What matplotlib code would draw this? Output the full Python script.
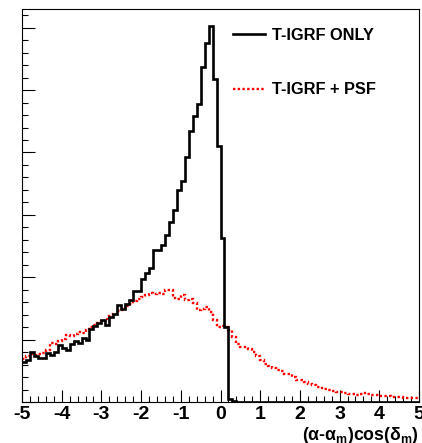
import numpy as np
import matplotlib
matplotlib.use("Agg")
from matplotlib import pyplot as plt
from matplotlib.ticker import MultipleLocator, NullFormatter

# bin edges: 100 bins of 0.1 from -5 to 5
bin_lo = -5.0
bin_hi = 5.0
n_bins = 100

# heights in units of one major y tick (axis has no y labels)
igrf_only = [
    0.642, 0.679, 0.802, 0.733, 0.711, 0.711, 0.786, 0.749, 0.802, 0.909,
    0.872, 0.840, 0.925, 0.979, 0.947, 1.032, 0.989, 1.176, 1.214, 1.267,
    1.321, 1.230, 1.364, 1.417, 1.551, 1.497, 1.578, 1.642, 1.781, 1.781,
    1.979, 2.070, 2.150, 2.433, 2.433, 2.524, 2.674, 2.888, 3.075, 3.406,
    3.540, 3.930, 4.348, 4.583, 4.775, 5.364, 5.759, 6.027, 5.171, 4.107,
    2.636, 1.203, 0.053, 0.011, 0, 0, 0, 0, 0, 0,
    0, 0, 0, 0, 0, 0, 0, 0, 0, 0,
    0, 0, 0, 0, 0, 0, 0, 0, 0, 0,
    0, 0, 0, 0, 0, 0, 0, 0, 0, 0,
    0, 0, 0, 0, 0, 0, 0, 0, 0, 0,
]

igrf_psf = [
    0.695, 0.733, 0.765, 0.749, 0.775, 0.786, 0.840, 0.947, 0.925, 0.979,
    1.016, 1.070, 1.053, 1.096, 1.123, 1.107, 1.160, 1.203, 1.230, 1.267,
    1.299, 1.337, 1.374, 1.406, 1.460, 1.481, 1.535, 1.578, 1.620, 1.658,
    1.684, 1.711, 1.749, 1.738, 1.749, 1.738, 1.802, 1.797, 1.674, 1.658,
    1.711, 1.631, 1.658, 1.588, 1.481, 1.497, 1.524, 1.444, 1.310, 1.203,
    1.214, 1.203, 1.150, 1.043, 0.936, 0.882, 0.882, 0.856, 0.802, 0.733,
    0.668, 0.615, 0.572, 0.551, 0.519, 0.497, 0.444, 0.455, 0.401, 0.358,
    0.348, 0.321, 0.294, 0.267, 0.241, 0.225, 0.209, 0.198, 0.176, 0.160,
    0.155, 0.144, 0.134, 0.123, 0.112, 0.134, 0.144, 0.123, 0.118, 0.112,
    0.102, 0.102, 0.091, 0.086, 0.080, 0.075, 0.070, 0.070, 0.064, 0.059,
]

x_ticks = [-5, -4, -3, -2, -1, 0, 1, 2, 3, 4, 5]
labels = ["T-IGRF ONLY", "T-IGRF + PSF"]

plt.rcParams["font.family"] = ["Liberation Sans", "DejaVu Sans"]
plt.rcParams["font.weight"] = "bold"
plt.rcParams["mathtext.fontset"] = "custom"
plt.rcParams["mathtext.rm"] = "Liberation Sans:bold"
plt.rcParams["mathtext.it"] = "Liberation Sans:bold"
plt.rcParams["mathtext.bf"] = "Liberation Sans:bold"

fig = plt.figure(figsize=(4.22, 4.43), dpi=100)
ax = fig.add_axes([22 / 422, 1 - 402 / 443, 397 / 422, 393 / 443])

edges = np.linspace(bin_lo, bin_hi, n_bins + 1)
ax.stairs(igrf_only, edges, baseline=None, color="black", linewidth=1.9,
          label=labels[0], zorder=3)
ax.stairs(igrf_psf, edges, baseline=None, color="red", linewidth=1.7,
          linestyle=(0, (1, 1)), label=labels[1], zorder=2)

ax.set_xlim(bin_lo, bin_hi)
ax.set_ylim(0, 6.30)

ax.set_xticks(x_ticks)
ax.set_xticklabels([str(t) for t in x_ticks])
ax.xaxis.set_minor_locator(MultipleLocator(0.2))
ax.yaxis.set_major_locator(MultipleLocator(1))
ax.yaxis.set_minor_locator(MultipleLocator(0.2))
ax.yaxis.set_major_formatter(NullFormatter())

ax.tick_params(which="both", direction="in", top=False, right=False,
               width=0.8, color="black")
ax.tick_params(which="major", length=9)
ax.tick_params(which="minor", length=4.5)
ax.tick_params(axis="x", labelsize=14, pad=3)
for s in ax.spines.values():
    s.set_linewidth(0.8)

ax.text(1.0, -0.058, r"$(\alpha$-$\alpha_m)$cos$(\delta_m)$",
        transform=ax.transAxes, ha="right", va="top", fontsize=12.8)

leg = ax.legend(loc="upper left", bbox_to_anchor=(233 / 422, 1 - 28 / 443),
                bbox_transform=fig.transFigure, frameon=False, fontsize=11.8,
                handlelength=1.95, handletextpad=0.4, labelspacing=2.4,
                borderpad=0, borderaxespad=0)

fig.savefig("out.png", dpi=100)
